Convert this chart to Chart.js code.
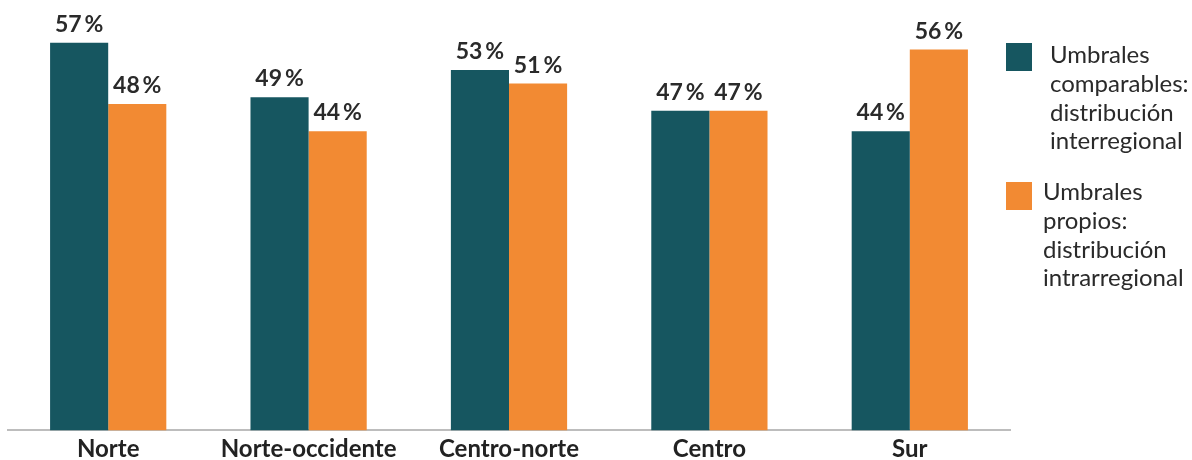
<!DOCTYPE html>
<html>
<head>
<meta charset="utf-8">
<script src="https://cdn.jsdelivr.net/npm/chart.js@4/dist/chart.umd.min.js"></script>
<style>
  html, body { margin: 0; padding: 0; background: #fff; }
  #wrap { width: 1192px; height: 460px; position: relative; }
</style>
</head>
<body>
<div id="wrap"><canvas id="regiones"></canvas></div>
<script>
const regiones = ['Norte', 'Norte-occidente', 'Centro-norte', 'Centro', 'Sur'];
const comparables = [57, 49, 53, 47, 44];
const propios = [48, 44, 51, 47, 56];
const leyendaComparables = ['Umbrales', 'comparables:', 'distribución', 'interregional'];
const leyendaPropios = ['Umbrales', 'propios:', 'distribución', 'intrarregional'];

const teal = '#165660';
const naranja = '#f28a33';

// values on top of each bar
const etiquetas = {
    id: 'etiquetas',
    afterDatasetsDraw(chart) {
        const ctx = chart.ctx;
        ctx.save();
        ctx.font = 'bold 23px Lato';
        ctx.fillStyle = '#2a2a2a';
        ctx.textAlign = 'center';
        ctx.textBaseline = 'alphabetic';
        chart.data.datasets.forEach((ds, i) => {
            chart.getDatasetMeta(i).data.forEach((bar, j) => {
                ctx.fillText(ds.data[j] + '\u2009%', bar.x, bar.y - 11);
            });
        });
        ctx.restore();
    }
};

// legend on the right, with wrapped lines
const leyenda = {
    id: 'leyenda',
    afterDraw(chart) {
        const ctx = chart.ctx;
        const items = [
            { color: teal, lines: chart.data.datasets[0].lineas, top: 43, textX: 1050, base: 20 },
            { color: naranja, lines: chart.data.datasets[1].lineas, top: 182, textX: 1043, base: 18 }
        ];
        ctx.save();
        ctx.font = '24px Lato';
        ctx.textBaseline = 'alphabetic';
        items.forEach(it => {
            ctx.fillStyle = it.color;
            ctx.fillRect(1006, it.top, 26, 28);
            ctx.fillStyle = '#2a2a2a';
            it.lines.forEach((t, k) => {
                ctx.fillText(t, it.textX, it.top + it.base + k * 28.8);
            });
        });
        ctx.restore();
    }
};

const ctx = document.getElementById('regiones').getContext('2d');
const chart = new Chart(ctx, {
    type: 'bar',
    data: {
        labels: regiones,
        datasets: [
            {
                label: leyendaComparables.join(' '),
                lineas: leyendaComparables,
                data: comparables,
                backgroundColor: teal,
                categoryPercentage: 0.58,
                barPercentage: 1
            },
            {
                label: leyendaPropios.join(' '),
                lineas: leyendaPropios,
                data: propios,
                backgroundColor: naranja,
                categoryPercentage: 0.58,
                barPercentage: 1
            }
        ]
    },
    options: {
        responsive: true,
        maintainAspectRatio: false,
        animation: false,
        layout: { padding: { left: 8, right: 182, top: 2, bottom: -8 } },
        plugins: {
            legend: { display: false },
            tooltip: { enabled: false }
        },
        scales: {
            x: {
                grid: { display: false, drawTicks: false },
                border: { display: true, color: '#bdbdbd', width: 2 },
                ticks: {
                    color: '#222',
                    padding: 8,
                    font: { family: 'Lato', size: 24, weight: 'bold', lineHeight: 0.9 }
                }
            },
            y: {
                display: false,
                min: 0,
                max: 63
            }
        }
    },
    plugins: [etiquetas, leyenda]
});
</script>
</body>
</html>
